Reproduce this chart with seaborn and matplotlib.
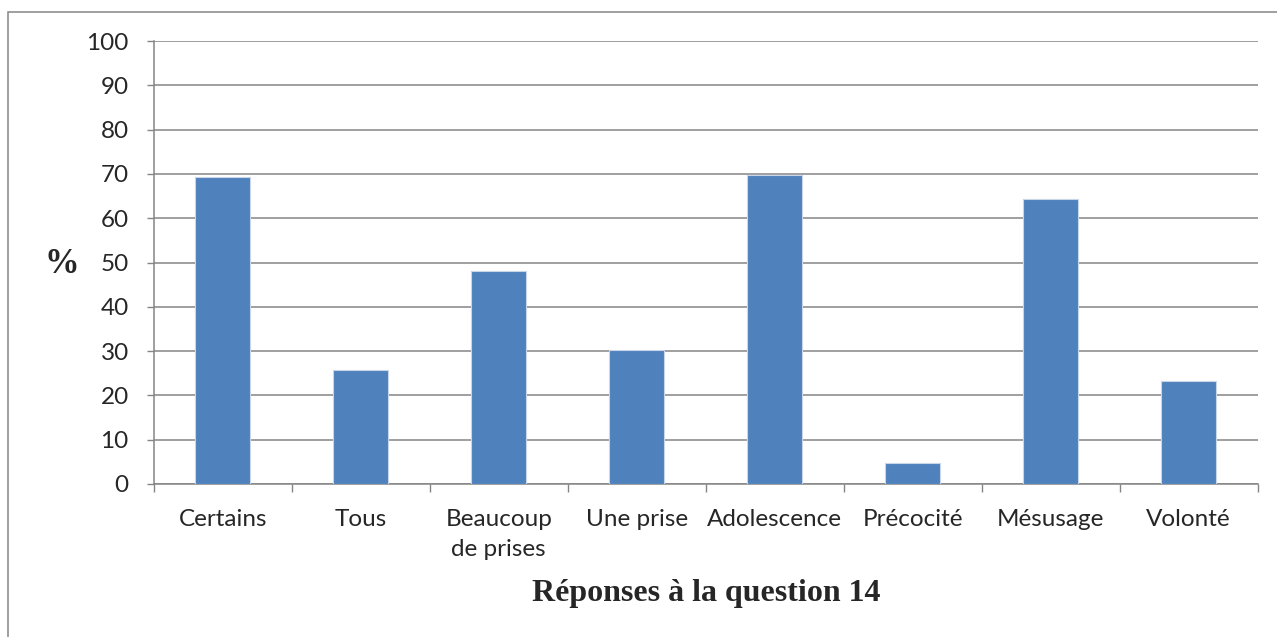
import numpy as np
import matplotlib
matplotlib.use("Agg")
import matplotlib.pyplot as plt
from matplotlib.patches import Rectangle
import seaborn as sns

# Data
categories = ['Certains', 'Tous', 'Beaucoup\nde prises', 'Une prise',
              'Adolescence', 'Précocité', 'Mésusage', 'Volonté']
percent = [69.4, 25.7, 48.0, 30.2, 69.8, 4.8, 64.3, 23.3]
y_ticks = list(range(0, 101, 10))

sns.set_style('white')
plt.rcParams['font.family'] = ['Lato', 'DejaVu Sans']

grey = '#858585'
bar_color = '#4F81BD'

fig = plt.figure(figsize=(12.77, 6.37), dpi=100)
ax = fig.add_axes([153.7 / 1277, 1 - 484 / 637, 1104 / 1277, 443 / 637])

sns.barplot(x=categories, y=percent, color=bar_color, width=0.4,
            edgecolor='#C9D6EA', linewidth=0.8, saturation=1, ax=ax, zorder=3)

ax.set_ylim(0, 100)
ax.set_xlim(-0.5, len(categories) - 0.5)
ax.set_yticks(y_ticks)
ax.set_yticklabels([str(v) for v in y_ticks], fontsize=17.5)
ax.tick_params(axis='y', direction='out', length=5, width=1, color=grey, pad=13, left=True)
ax.tick_params(axis='x', which='major', length=0, pad=18, labelsize=17.5)
for lab in ax.get_xticklabels():
    lab.set_linespacing(1.5)
    lab.set_verticalalignment('top')
ax.set_xticks(np.arange(-0.5, len(categories), 1.0), minor=True)
ax.tick_params(axis='x', which='minor', direction='out', length=6, width=1, color=grey, bottom=True)

ax.yaxis.grid(True, color=grey, linewidth=1.1, zorder=0)
ax.xaxis.grid(False)
ax.set_axisbelow(True)
for side in ['top', 'right']:
    ax.spines[side].set_visible(False)
for side in ['left', 'bottom']:
    ax.spines[side].set_color(grey)
    ax.spines[side].set_linewidth(1.1)
ax.set_xlabel('')
ax.set_ylabel('')

fig.text(62 / 1277, 1 - 264 / 637, '%', fontsize=25, fontweight='bold',
         family='Liberation Serif', ha='center', va='center')
fig.text(706 / 1277, 1 - 593 / 637, 'Réponses à la question 14', fontsize=23,
         fontweight='bold', family='Liberation Serif', ha='center', va='center')

fig.add_artist(Rectangle((8 / 1277, -0.1), 2, 1.1 - 11.5 / 637, transform=fig.transFigure,
                         fill=False, edgecolor=grey, linewidth=1.1))

fig.savefig('out.png', dpi=100)
